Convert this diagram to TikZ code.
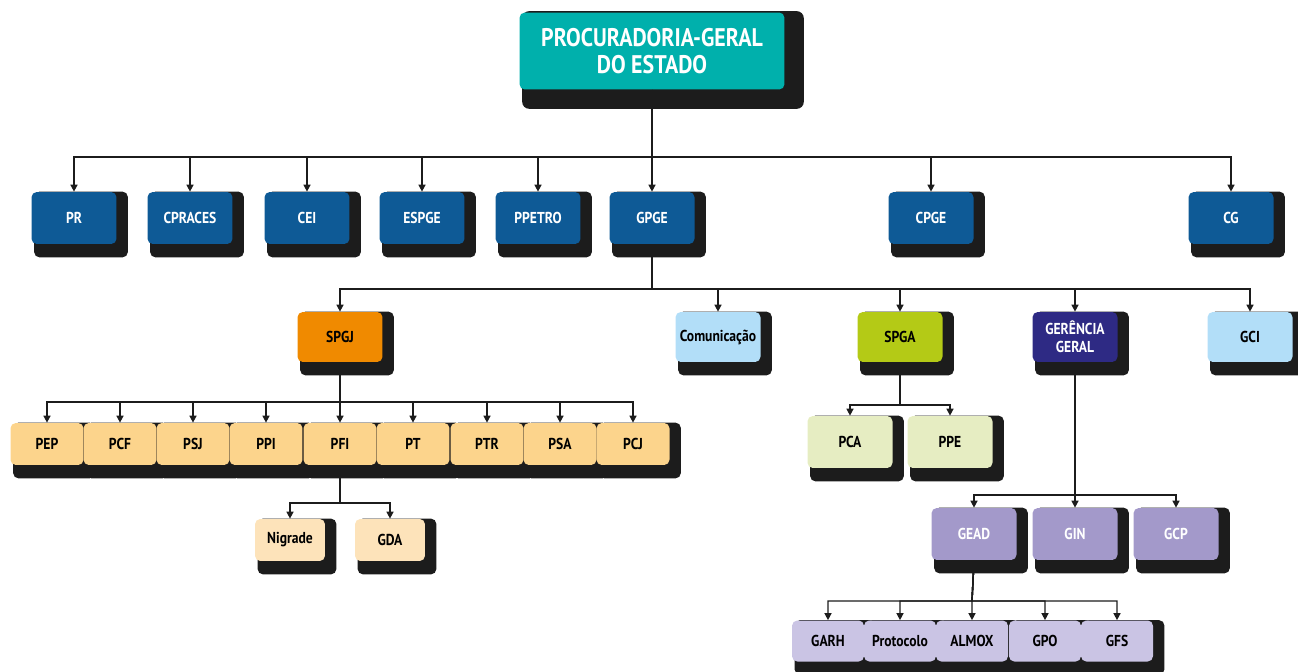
\documentclass[tikz,border=0pt]{standalone}
\usepackage{fontspec}
\setmainfont{PT Sans}[FakeStretch=0.86]
\usetikzlibrary{arrows.meta,calc,backgrounds}
\definecolor{tealpge}{RGB}{0,176,172}
\definecolor{bluepge}{RGB}{14,90,150}
\definecolor{orangepge}{RGB}{240,138,0}
\definecolor{skypge}{RGB}{178,222,248}
\definecolor{limepge}{RGB}{180,202,22}
\definecolor{navypge}{RGB}{46,42,132}
\definecolor{sandpge}{RGB}{252,212,140}
\definecolor{creampge}{RGB}{253,227,186}
\definecolor{palegreen}{RGB}{230,237,194}
\definecolor{lavpge}{RGB}{163,153,202}
\definecolor{lilacpge}{RGB}{202,196,228}
\definecolor{shadowpge}{RGB}{28,28,28}
\begin{document}
\begin{tikzpicture}[x=0.02cm, y=-0.02cm, font=\bfseries\fontsize{9}{10}\selectfont]
			\tikzstyle{box}=[rectangle,rounded corners=3pt,minimum width=1.7cm,minimum height=1.04cm,inner sep=1pt,align=center]
			\tikzstyle{cell}=[box,minimum width=1.46cm,minimum height=0.84cm]
			\tikzstyle{arr}=[-{Triangle[length=4pt,width=4pt]},line width=0.8pt,draw=shadowpge]
			\useasboundingbox (0,0) rectangle (1298,672);
			
			\node[box,fill=tealpge,text=white,minimum width=5.3cm,minimum height=1.54cm,font=\bfseries\fontsize{14.5}{15}\selectfont](pge) at (652,51){PROCURADORIA-GERAL\\DO ESTADO};
			
			\foreach \name/\x/\txt in {pr/74/PR, cpraces/190/CPRACES, cei/307/CEI, espge/422/ESPGE, ppetro/538/PPETRO, gpge/652/GPGE, cpge/931/CPGE, cg/1231/CG}{
				\node[box,fill=bluepge,text=white](\name) at (\x,218){\txt};
			};
			
			\node[box,fill=orangepge,minimum height=1cm](spgj) at (340,337){SPGJ};
			\node[box,fill=skypge,minimum height=1cm](com) at (718,337){Comunicação};
			\node[box,fill=limepge,minimum height=1cm](spga) at (900,337){SPGA};
			\node[box,fill=navypge,text=white,minimum height=1cm](ger) at (1075,337){GERÊNCIA\\GERAL};
			\node[box,fill=skypge,minimum height=1cm](gci) at (1250,337){GCI};
			
			\foreach \name/\x/\txt in {pep/47/PEP, pcf/120/PCF, psj/193/PSJ, ppi/266/PPI, pfi/340/PFI, pt/413/PT, ptr/487/PTR, psa/560/PSA, pcj/633/PCJ}{
				\node[cell,fill=sandpge](\name) at (\x,444){\txt};
			};
			
			\node[cell,fill=creampge,minimum width=1.4cm](nig) at (290,540){Nigrade};
			\node[cell,fill=creampge,minimum width=1.4cm](gda) at (390,540){GDA};
			
			\node[box,fill=palegreen](pca) at (850,442){PCA};
			\node[box,fill=palegreen](ppe) at (950,442){PPE};
			
			\foreach \name/\x/\txt in {gead/974/GEAD, gin/1075/GIN, gcp/1176/GCP}{
				\node[box,fill=lavpge,text=white](\name) at (\x,534){\txt};
			};
			
			\foreach \name/\x/\txt in {garh/828/GARH, prot/900/Protocolo, almox/972/ALMOX, gpo/1045/GPO, gfs/1117/GFS}{
				\node[cell,fill=lilacpge,minimum width=1.44cm,minimum height=0.82cm](\name) at (\x,641){\txt};
			};
			
			% shadows
			\begin{scope}[on background layer]
				\fill[shadowpge,rounded corners=4pt] ($(pge.north west)+(3,-1)$) rectangle ($(pge.south east)+(19,19)$);
				\foreach \n in {pr,cpraces,cei,espge,ppetro,gpge,cpge,cg,spgj,com,spga,ger,gci,pep,pcf,psj,ppi,pfi,pt,ptr,psa,pcj,nig,gda,pca,ppe,gead,gin,gcp,garh,prot,almox,gpo,gfs}{
					\fill[shadowpge,rounded corners=3pt] ($(\n.north west)+(3,0)$) rectangle ($(\n.south east)+(11,13)$);
				};
			\end{scope}
			
			\coordinate (bus1) at (652,157);
			\coordinate (bus2) at (652,289);
			\coordinate (bus3) at (340,402);
			\coordinate (bus4) at (340,503);
			\coordinate (bus5) at (900,405);
			\coordinate (bus6) at (1075,495);
			\coordinate (bus7) at (972,601);
			\foreach \n in {pr,cpraces,cei,espge,ppetro,gpge,cpge,cg}
				\draw[arr] (pge.south) -- (bus1) -| (\n.north);
			\foreach \n in {spgj,com,spga,ger,gci}
				\draw[arr] (gpge.south) -- (bus2) -| (\n.north);
			\foreach \n in {pep,pcf,psj,ppi,pfi,pt,ptr,psa,pcj}
				\draw[arr] (spgj.south) -- (bus3) -| (\n.north);
			\foreach \n in {nig,gda}
				\draw[arr] (pfi.south) -- (bus4) -| (\n.north);
			\foreach \n in {pca,ppe}
				\draw[arr] (spga.south) -- (bus5) -| (\n.north);
			\foreach \n in {gead,gin,gcp}
				\draw[arr] (ger.south) -- (bus6) -| (\n.north);
			\foreach \n in {garh,prot,almox,gpo,gfs}
				\draw[arr] (gead.south) -- (bus7) -| (\n.north);
\end{tikzpicture}
\end{document}
